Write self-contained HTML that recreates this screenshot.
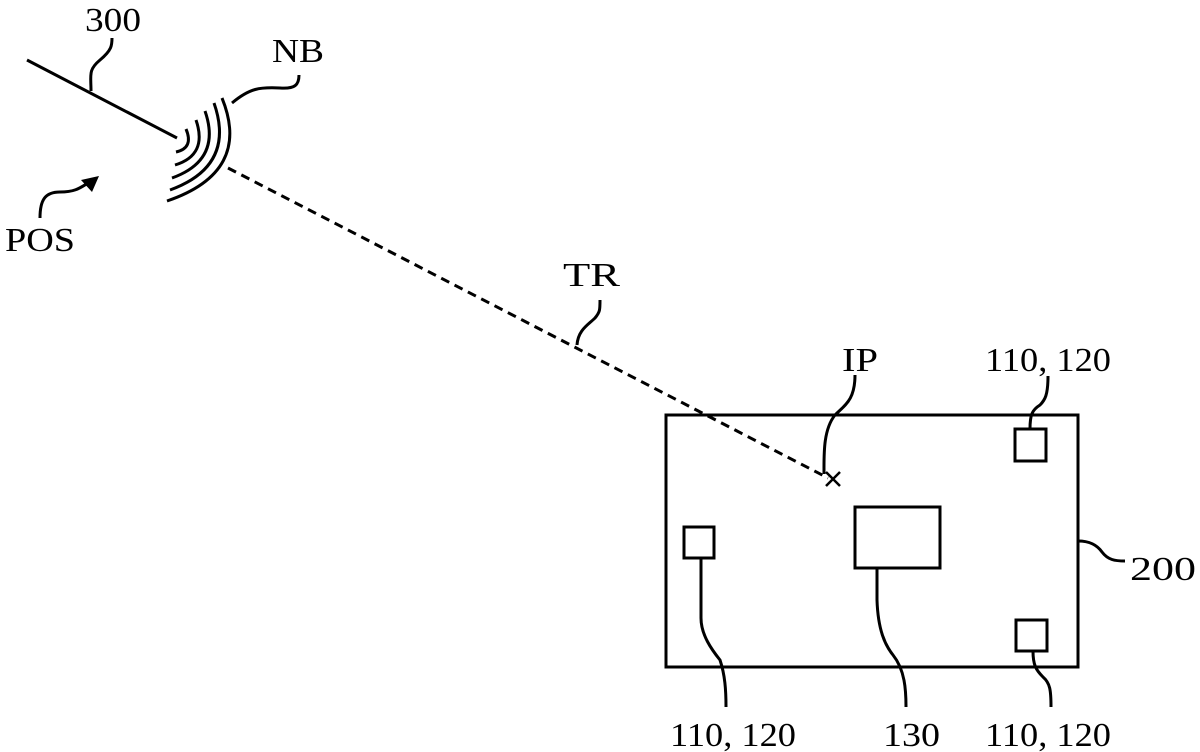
<!DOCTYPE html>
<html><head><meta charset="utf-8"><style>
html,body{margin:0;padding:0;background:#fff;}
svg{display:block;}
text{font-family:"Liberation Serif",serif;font-size:34px;fill:#000;}
</style></head><body>
<svg width="1200" height="752" viewBox="0 0 1200 752" xmlns="http://www.w3.org/2000/svg">
<g fill="none" stroke="#000" stroke-width="3" stroke-linecap="butt">
<line x1="27" y1="60" x2="177" y2="138"/>
<path d="M91,91 C91,75 88,70 100,60 C112,50 112,45 112,38"/>
<path d="M222,98 Q252,172 167,201"/>
<path d="M214,103 Q236,166 170,190"/>
<path d="M205,111 Q222,160 172,178"/>
<path d="M196,120 Q208,155 175,165"/>
<path d="M186,129 Q194,148 176,152"/>
<path d="M232,103 C250,88 260,87 280,88 C295,89 299,85 299,75"/>
<path d="M40,218 C40,200 45,192 60,192 C75,192 80,188 88,183"/>
<line x1="228" y1="168" x2="828" y2="478" stroke-dasharray="9,6"/>
<path d="M577,345 C578,330 588,325 595,318 C600,312 600,310 600,300"/>
<path d="M826,472 L840,486 M840,472 L826,486" stroke-width="2.5"/>
<path d="M824,474 C824,455 823,430 835,415 C845,405 855,400 855,375"/>
<rect x="666" y="415" width="412" height="252"/>
<rect x="1015" y="429" width="31" height="32"/>
<path d="M1030,429 C1030,415 1032,410 1040,405 C1045,400 1048,395 1048,376"/>
<rect x="684" y="527" width="30" height="31"/>
<path d="M701,558 L701,618 C701,635 712,650 720,660 C725,675 726,690 726,707"/>
<rect x="855" y="507" width="85" height="61"/>
<path d="M877,568 L877,600 C878,630 885,645 893,655 C905,670 906,690 906,707"/>
<rect x="1016" y="620" width="31" height="31"/>
<path d="M1033,651 C1033,665 1036,670 1043,677 C1050,683 1051,690 1051,707"/>
<path d="M1078,541 C1090,541 1097,545 1102,552 C1108,560 1115,561 1125,561"/>
</g>
<path d="M99,176 L81,180 L92,192 Z" fill="#000"/>
<text x="85" y="31" textLength="56" lengthAdjust="spacingAndGlyphs">300</text>
<text x="272" y="62" textLength="52" lengthAdjust="spacingAndGlyphs">NB</text>
<text x="5" y="251" textLength="70" lengthAdjust="spacingAndGlyphs">POS</text>
<text x="563" y="286" textLength="57" lengthAdjust="spacingAndGlyphs">TR</text>
<text x="842" y="371" textLength="36" lengthAdjust="spacingAndGlyphs">IP</text>
<text x="985" y="371" textLength="126" lengthAdjust="spacingAndGlyphs">110, 120</text>
<text x="1130" y="580" textLength="66" lengthAdjust="spacingAndGlyphs">200</text>
<text x="670" y="746" textLength="126" lengthAdjust="spacingAndGlyphs">110, 120</text>
<text x="883" y="746" textLength="57" lengthAdjust="spacingAndGlyphs">130</text>
<text x="985" y="746" textLength="126" lengthAdjust="spacingAndGlyphs">110, 120</text>
</svg>
</body></html>
